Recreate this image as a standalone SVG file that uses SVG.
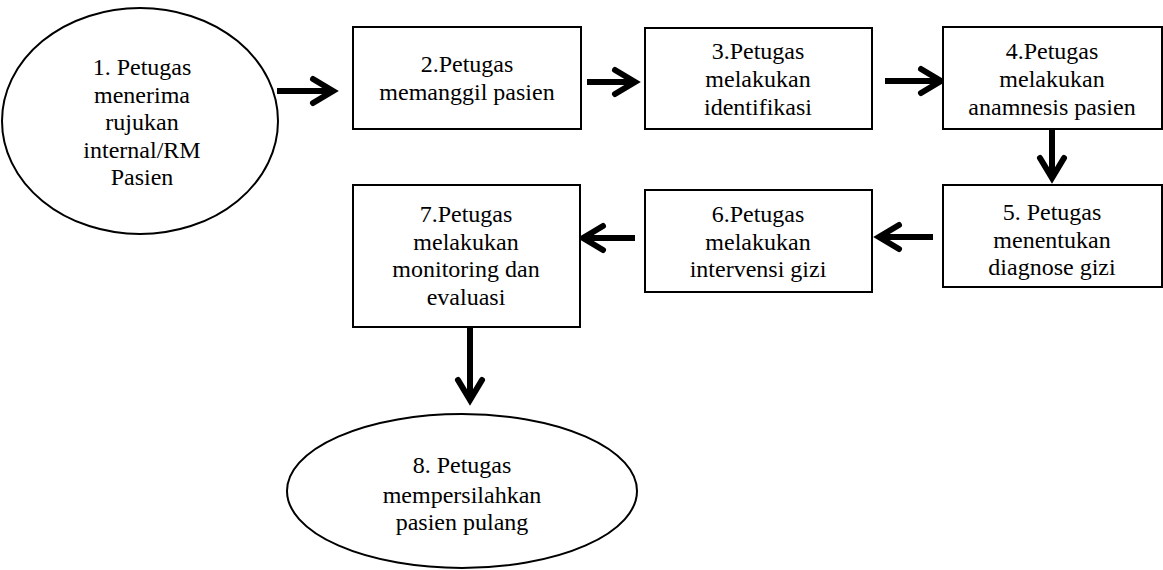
<svg xmlns="http://www.w3.org/2000/svg" width="1163" height="570" viewBox="0 0 1163 570">
<style>
.n{fill:#fff;stroke:#000;stroke-width:2}
.t{font-family:'Liberation Serif','Times New Roman',serif;font-size:24px;fill:#000;text-anchor:middle}
.c{fill:none;stroke:#000;stroke-width:6;marker-end:url(#ah)}
</style>
<defs>
<marker id="ah" markerUnits="userSpaceOnUse" viewBox="-30 -20 40 40" refX="0" refY="0" markerWidth="40" markerHeight="40" orient="auto">
<path d="M-20,-12 L0,0 L-20,12" fill="none" stroke="#000" stroke-width="6" stroke-linecap="round" stroke-linejoin="miter"/>
</marker>
</defs>
<rect width="1163" height="570" fill="#fff"/>
<g id="connectors">
<path class="c" d="M277,91 H333"/>
<path class="c" d="M587,82 H635"/>
<path class="c" d="M885,81 H941"/>
<path class="c" d="M1052,129 V178"/>
<path class="c" d="M933,237 H879"/>
<path class="c" d="M635,238 H583"/>
<path class="c" d="M470,327 V400"/>
</g>
<g id="n1">
<ellipse class="n" cx="140" cy="121" rx="138" ry="113"/>
<text class="t" x="142" y="75">1. Petugas</text>
<text class="t" x="142" y="103">menerima</text>
<text class="t" x="142" y="130">rujukan</text>
<text class="t" x="142" y="158">internal/RM</text>
<text class="t" x="142" y="185">Pasien</text>
</g>
<g id="n2">
<rect class="n" x="353" y="27" width="228" height="102"/>
<text class="t" x="467" y="72">2.Petugas</text>
<text class="t" x="467" y="100">memanggil pasien</text>
</g>
<g id="n3">
<rect class="n" x="645" y="28" width="227" height="101"/>
<text class="t" x="758" y="59">3.Petugas</text>
<text class="t" x="758" y="87">melakukan</text>
<text class="t" x="758" y="115">identifikasi</text>
</g>
<g id="n4">
<rect class="n" x="943" y="27" width="219" height="102"/>
<text class="t" x="1052" y="59">4.Petugas</text>
<text class="t" x="1052" y="87">melakukan</text>
<text class="t" x="1052" y="115">anamnesis pasien</text>
</g>
<g id="n5">
<rect class="n" x="943" y="185" width="219" height="102"/>
<text class="t" x="1052" y="220">5. Petugas</text>
<text class="t" x="1052" y="248">menentukan</text>
<text class="t" x="1052" y="275">diagnose gizi</text>
</g>
<g id="n6">
<rect class="n" x="645" y="190" width="227" height="102"/>
<text class="t" x="758" y="222">6.Petugas</text>
<text class="t" x="758" y="250">melakukan</text>
<text class="t" x="758" y="277">intervensi gizi</text>
</g>
<g id="n7">
<rect class="n" x="353" y="185" width="227" height="142"/>
<text class="t" x="466" y="222">7.Petugas</text>
<text class="t" x="466" y="250">melakukan</text>
<text class="t" x="466" y="277">monitoring dan</text>
<text class="t" x="466" y="305">evaluasi</text>
</g>
<g id="n8">
<ellipse class="n" cx="462" cy="491" rx="175" ry="77"/>
<text class="t" x="462" y="473">8. Petugas</text>
<text class="t" x="462" y="503">mempersilahkan</text>
<text class="t" x="462" y="530">pasien pulang</text>
</g>
</svg>
